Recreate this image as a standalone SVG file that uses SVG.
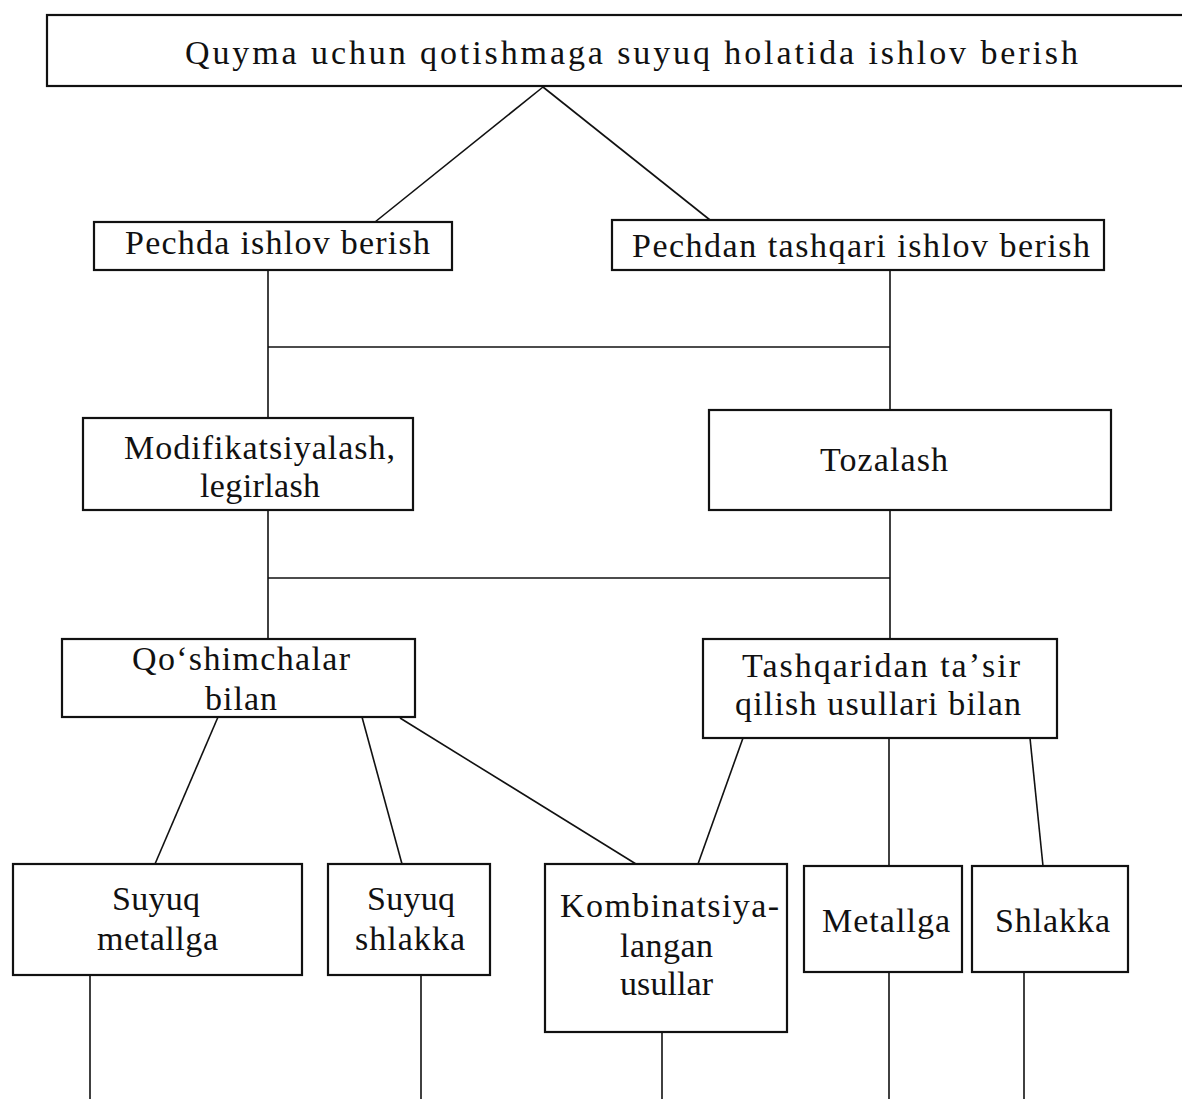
<svg xmlns="http://www.w3.org/2000/svg" width="1182" height="1099" viewBox="0 0 1182 1099">
<style>
.box{fill:#fff;stroke:#111;stroke-width:2.2}
.lbl{font-family:"Liberation Serif","DejaVu Serif",serif;font-size:34px;fill:#111}
.con{stroke:#111;stroke-width:1.6;fill:none}
</style>
<rect width="1182" height="1099" fill="#fff"/>
<g id="connectors">
<line class="con" x1="543" y1="87" x2="375" y2="222"/>
<line class="con" x1="543" y1="87" x2="710" y2="220"/>
<line class="con" x1="268" y1="270" x2="268" y2="418"/>
<line class="con" x1="890" y1="270" x2="890" y2="410"/>
<line class="con" x1="268" y1="347" x2="890" y2="347"/>
<line class="con" x1="268" y1="510" x2="268" y2="639"/>
<line class="con" x1="890" y1="510" x2="890" y2="639"/>
<line class="con" x1="268" y1="578" x2="890" y2="578"/>
<line class="con" x1="218" y1="717" x2="155" y2="864"/>
<line class="con" x1="362" y1="717" x2="402" y2="864"/>
<line class="con" x1="400" y1="718" x2="636" y2="864"/>
<line class="con" x1="743" y1="738" x2="698" y2="864"/>
<line class="con" x1="889" y1="738" x2="889" y2="866"/>
<line class="con" x1="1030" y1="738" x2="1043" y2="866"/>
<line class="con" x1="90" y1="975" x2="90" y2="1099"/>
<line class="con" x1="421" y1="975" x2="421" y2="1099"/>
<line class="con" x1="662" y1="1032" x2="662" y2="1099"/>
<line class="con" x1="889" y1="972" x2="889" y2="1099"/>
<line class="con" x1="1024" y1="972" x2="1024" y2="1099"/>
</g>
<g id="n-root">
<rect class="box" x="47" y="15" width="1150" height="71"/>
<text class="lbl" x="185" y="64" textLength="893" lengthAdjust="spacing">Quyma uchun qotishmaga suyuq holatida ishlov berish</text>
</g>
<g id="n-pechda">
<rect class="box" x="94" y="222" width="358" height="48"/>
<text class="lbl" x="125" y="254" textLength="305" lengthAdjust="spacing">Pechda ishlov berish</text>
</g>
<g id="n-pechdan">
<rect class="box" x="612" y="220" width="492" height="50"/>
<text class="lbl" x="632" y="257" textLength="458" lengthAdjust="spacing">Pechdan tashqari ishlov berish</text>
</g>
<g id="n-modif">
<rect class="box" x="83" y="418" width="330" height="92"/>
<text class="lbl" x="124" y="459" textLength="271" lengthAdjust="spacing">Modifikatsiyalash,</text>
<text class="lbl" x="200" y="497" textLength="120" lengthAdjust="spacing">legirlash</text>
</g>
<g id="n-tozalash">
<rect class="box" x="709" y="410" width="402" height="100"/>
<text class="lbl" x="820" y="471" textLength="128" lengthAdjust="spacing">Tozalash</text>
</g>
<g id="n-qoshim">
<rect class="box" x="62" y="639" width="353" height="78"/>
<text class="lbl" x="132" y="670" textLength="218" lengthAdjust="spacing">Qoʻshimchalar</text>
<text class="lbl" x="205" y="710" textLength="72" lengthAdjust="spacing">bilan</text>
</g>
<g id="n-tashq">
<rect class="box" x="703" y="639" width="354" height="99"/>
<text class="lbl" x="742" y="677" textLength="278" lengthAdjust="spacing">Tashqaridan taʼsir</text>
<text class="lbl" x="735" y="715" textLength="286" lengthAdjust="spacing">qilish usullari bilan</text>
</g>
<g id="n-suyuq-metall">
<rect class="box" x="13" y="864" width="289" height="111"/>
<text class="lbl" x="112" y="910" textLength="88" lengthAdjust="spacing">Suyuq</text>
<text class="lbl" x="97" y="950" textLength="121" lengthAdjust="spacing">metallga</text>
</g>
<g id="n-suyuq-shlak">
<rect class="box" x="328" y="864" width="162" height="111"/>
<text class="lbl" x="367" y="910" textLength="88" lengthAdjust="spacing">Suyuq</text>
<text class="lbl" x="355" y="950" textLength="110" lengthAdjust="spacing">shlakka</text>
</g>
<g id="n-kombin">
<rect class="box" x="545" y="864" width="242" height="168"/>
<text class="lbl" x="560" y="917" textLength="219" lengthAdjust="spacing">Kombinatsiya-</text>
<text class="lbl" x="620" y="957" textLength="93" lengthAdjust="spacing">langan</text>
<text class="lbl" x="620" y="995" textLength="93" lengthAdjust="spacing">usullar</text>
</g>
<g id="n-metallga">
<rect class="box" x="804" y="866" width="158" height="106"/>
<text class="lbl" x="822" y="932" textLength="128" lengthAdjust="spacing">Metallga</text>
</g>
<g id="n-shlakka">
<rect class="box" x="972" y="866" width="156" height="106"/>
<text class="lbl" x="995" y="932" textLength="115" lengthAdjust="spacing">Shlakka</text>
</g>
</svg>
